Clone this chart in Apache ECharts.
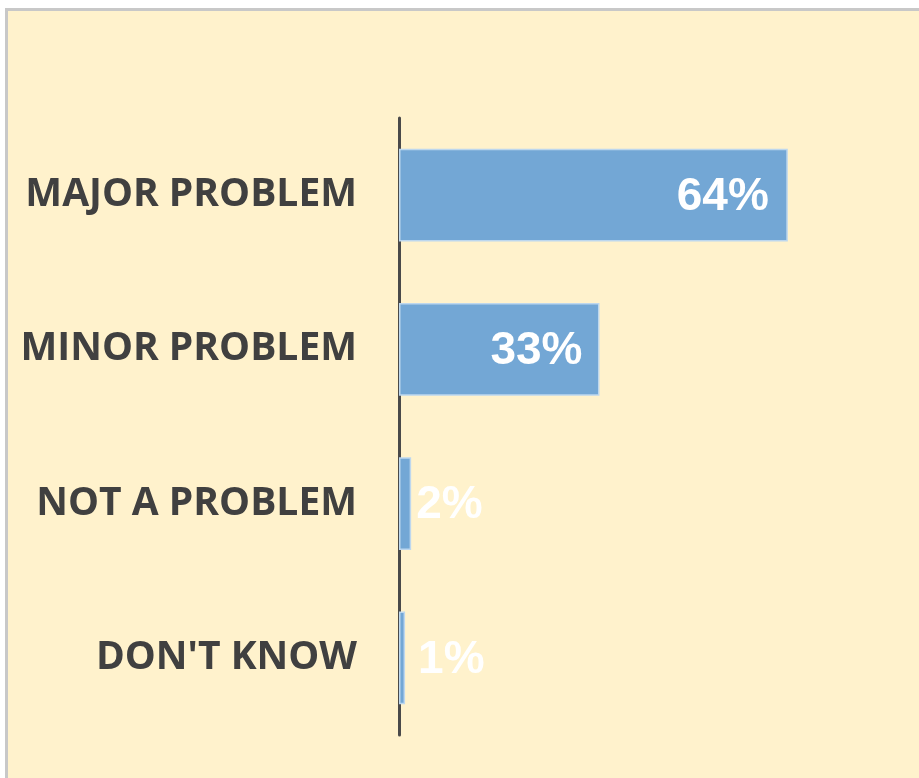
<!DOCTYPE html>
<html>
<head>
<meta charset="utf-8">
<title>Problem rating</title>
<script src="https://cdn.jsdelivr.net/npm/echarts@6/dist/echarts.min.js"></script>
<style>
  html, body { margin: 0; padding: 0; background: #ffffff; }
  #panel {
    position: absolute; left: 5px; top: 8px; width: 940px; height: 800px;
    background: #FFF2CC; border-left: 3px solid #C8C8C8; border-top: 3px solid #C8C8C8;
  }
  #chart { position: absolute; left: 0; top: 0; width: 919px; height: 778px; }
</style>
</head>
<body>
<div id="panel"></div>
<div id="chart"></div>
<script>
// Survey answers and their shares (percent)
const categories = ['MAJOR PROBLEM', 'MINOR PROBLEM', 'NOT A PROBLEM', "DON'T KNOW"];
const shares = [64, 33, 2, 1];
// Short bars carry their label outside the bar end
const labelOutside = [false, false, true, true];
const labelGap = [19, 17, 5, 13];

const chart = echarts.init(document.getElementById('chart'), null, { renderer: 'canvas' });

const data = shares.map((v, i) => ({
  value: v,
  label: labelOutside[i]
    ? { position: 'right', distance: labelGap[i] }
    : { position: 'insideRight', distance: labelGap[i] }
}));

chart.setOption({
  backgroundColor: 'transparent',
  animation: false,
  grid: { left: 399, top: 118, width: 486, height: 617, containLabel: false },
  xAxis: {
    type: 'value', min: 0, max: 80, show: false,
    splitLine: { show: false }
  },
  yAxis: {
    type: 'category',
    data: categories,
    inverse: true,
    axisLine: { show: true, lineStyle: { color: '#4A4A4A', width: 3 } },
    axisTick: { show: false },
    axisLabel: {
      margin: 42,
      color: '#404040',
      fontFamily: 'Open Sans',
      fontWeight: 'bold',
      fontSize: 39,
      padding: [8, 0, 0, 0]
    }
  },
  series: [{
    type: 'bar',
    data: data,
    barCategoryGap: '40%',
    itemStyle: { color: '#73A7D5', borderColor: '#BDD7EE', borderWidth: 1.5 },
    label: {
      show: true,
      formatter: '{c}%',
      color: '#ffffff',
      fontFamily: 'Liberation Sans',
      fontWeight: 'bold',
      fontSize: 46,
      offset: [0, 2]
    }
  }]
});
</script>
</body>
</html>
